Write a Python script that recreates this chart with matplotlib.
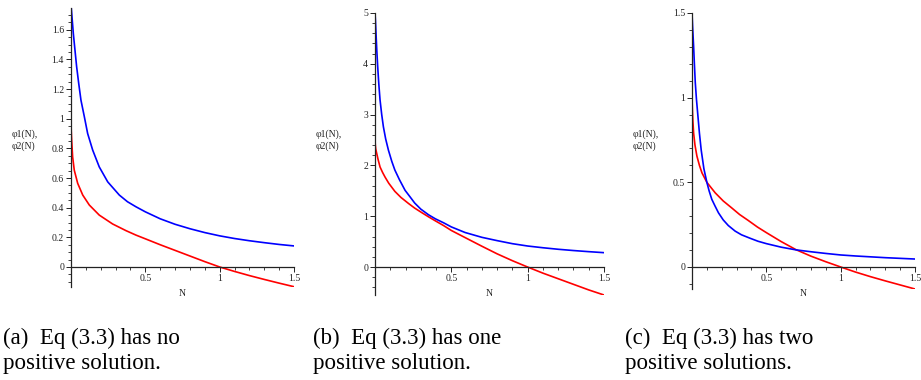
import numpy as np
import matplotlib
matplotlib.use("Agg")
import matplotlib.pyplot as plt

plt.rcParams['font.family'] = ['Liberation Serif', 'DejaVu Serif']

# panel (a): no positive solution
a_N_red = [0, 0.0015, 0.0045, 0.011, 0.022, 0.045, 0.079, 0.123, 0.19, 0.28, 0.37, 0.437,
           0.5, 0.6, 0.7, 0.8, 0.9, 1.0, 1.1, 1.2, 1.3, 1.4, 1.5]
a_red = [1.0, 0.92, 0.855, 0.743, 0.653, 0.564, 0.485, 0.418, 0.35, 0.29, 0.245, 0.215,
         0.19, 0.15, 0.112, 0.074, 0.036, 0.0, -0.03, -0.058, -0.084, -0.109, -0.133]
a_N_blue = [0.0015, 0.0067, 0.0157, 0.027, 0.038, 0.052, 0.067, 0.090, 0.112, 0.146, 0.19,
            0.247, 0.325, 0.38, 0.437, 0.5, 0.6, 0.7, 0.8, 0.9, 1.0, 1.1, 1.2, 1.3, 1.4, 1.5]
a_blue = [1.75, 1.686, 1.574, 1.46, 1.35, 1.237, 1.125, 1.012, 0.90, 0.788, 0.675,
          0.574, 0.485, 0.44, 0.406, 0.372, 0.325, 0.288, 0.258, 0.232, 0.21, 0.192, 0.177,
          0.164, 0.152, 0.142]

# panel (b): one positive solution
b_N_red = [0, 0.002, 0.005, 0.011, 0.02, 0.033, 0.05, 0.066, 0.09, 0.13, 0.17, 0.22, 0.26, 0.307,
           0.35, 0.395, 0.45, 0.5, 0.59, 0.7, 0.8, 0.9, 1.0, 1.1, 1.2, 1.3, 1.4, 1.5]
b_red = [2.5, 2.4, 2.32, 2.24, 2.12, 1.97, 1.86, 1.77, 1.65, 1.49, 1.37, 1.25, 1.16, 1.07,
         0.99, 0.91, 0.815, 0.72, 0.58, 0.41, 0.26, 0.125, 0.0, -0.12, -0.23, -0.34, -0.45, -0.55]
b_N_blue = [0.0, 0.003, 0.0066, 0.012, 0.0175, 0.025, 0.033, 0.044, 0.055, 0.07, 0.088, 0.11, 0.13,
            0.16, 0.197, 0.23, 0.26, 0.3, 0.35, 0.395, 0.45, 0.5, 0.59, 0.7, 0.8, 0.9, 1.0, 1.1,
            1.2, 1.3, 1.4, 1.5]
b_blue = [5.0, 4.85, 4.6, 4.25, 3.95, 3.6, 3.29, 3.0, 2.76, 2.52, 2.30, 2.08, 1.91, 1.72, 1.51,
          1.38, 1.26, 1.14, 1.03, 0.95, 0.87, 0.79, 0.68, 0.585, 0.52, 0.46, 0.414, 0.38, 0.35,
          0.325, 0.303, 0.283]

# panel (c): two positive solutions
c_N_red = [0, 0.003, 0.006, 0.011, 0.02, 0.033, 0.05, 0.067, 0.1, 0.156, 0.21, 0.267, 0.32, 0.378,
           0.44, 0.5, 0.6, 0.7, 0.8, 0.9, 1.0, 1.1, 1.2, 1.3, 1.4, 1.5]
c_red = [1.0, 0.92, 0.86, 0.79, 0.72, 0.655, 0.6, 0.556, 0.5, 0.438, 0.39, 0.349, 0.31, 0.275,
         0.236, 0.203, 0.15, 0.102, 0.064, 0.031, 0.0, -0.03, -0.057, -0.082, -0.106, -0.13]
c_N_blue = [0.0, 0.004, 0.011, 0.016, 0.022, 0.03, 0.04, 0.05, 0.062, 0.08, 0.1, 0.115, 0.133,
            0.155, 0.178, 0.21, 0.244, 0.29, 0.333, 0.39, 0.444, 0.5, 0.6, 0.7, 0.8, 0.9, 1.0,
            1.1, 1.2, 1.3, 1.4, 1.5]
c_blue = [1.5, 1.42, 1.3, 1.2, 1.09, 0.99, 0.89, 0.79, 0.69, 0.58, 0.5, 0.45, 0.40, 0.36, 0.32,
          0.278, 0.245, 0.212, 0.19, 0.17, 0.152, 0.138, 0.117, 0.101, 0.09, 0.08, 0.071, 0.065,
          0.06, 0.055, 0.051, 0.047]

x_ticks = [0.5, 1, 1.5]
x_labels = ['0.5', '1', '1.5']
a_yticks = [0, 0.2, 0.4, 0.6, 0.8, 1, 1.2, 1.4, 1.6]
a_ylabels = ['0', '0.2', '0.4', '0.6', '0.8', '1', '1.2', '1.4', '1.6']
b_yticks = [0, 1, 2, 3, 4, 5]
b_ylabels = ['0', '1', '2', '3', '4', '5']
c_yticks = [0, 0.5, 1, 1.5]
c_ylabels = ['0', '0.5', '1', '1.5']

captions = ['(a)  Eq (3.3) has no\npositive solution.',
            '(b)  Eq (3.3) has one\npositive solution.',
            '(c)  Eq (3.3) has two\npositive solutions.']

W, H = 921, 380
fig = plt.figure(figsize=(W / 100, H / 100), dpi=100)


def make_axes(left, right, top, bottom):
    return fig.add_axes([left / W, 1 - bottom / H, (right - left) / W, (bottom - top) / H])


panels = [
    # px box, ylim, data, yticks, ylabels, minor step, minor start
    ((71, 294, 7.5, 287), (-0.135, 1.75), (a_N_red, a_red, a_N_blue, a_blue), a_yticks, a_ylabels,
     0.05, -0.1),
    ((375, 604, 13, 295), (-0.55, 5.0), (b_N_red, b_red, b_N_blue, b_blue), b_yticks, b_ylabels,
     0.2, -0.4),
    ((692, 915, 13, 289), (-0.13, 1.5), (c_N_red, c_red, c_N_blue, c_blue), c_yticks, c_ylabels,
     0.1, -0.1),
]
cap_x = [3, 313, 625]

for i, (box, ylim, data, yt, yl, mstep, mstart) in enumerate(panels):
    left, right, top, bottom = box
    ax = make_axes(left, right, top, bottom)
    nr, r, nb, b = data
    ax.plot(nr, r, color='#ff0000', lw=1.2)
    ax.plot(nb, b, color='#0000ff', lw=1.2)
    ax.set_xlim(0, 1.5)
    ax.set_ylim(*ylim)
    ax.patch.set_alpha(0)
    for s in ['top', 'right']:
        ax.spines[s].set_visible(False)
    ax.spines['bottom'].set_position(('data', 0))
    ax.spines['left'].set_position(('data', 0))
    for s in ['bottom', 'left']:
        ax.spines[s].set_linewidth(0.9)
        ax.spines[s].set_color('#222222')
    ax.set_xticks(x_ticks)
    ax.set_xticklabels(x_labels)
    ax.set_xticks(np.arange(0.1, 1.5, 0.1), minor=True)
    ax.set_yticks(yt)
    ax.set_yticklabels(yl)
    ax.set_yticks(np.arange(mstart, ylim[1], mstep), minor=True)
    ax.tick_params(which='major', length=3.5, width=0.7, color='#222222', labelsize=7,
                   labelcolor='#222222', pad=1.5)
    ax.tick_params(which='minor', length=2.0, width=0.6, color='#222222')
    fig.text((left - 59) / W, 1 - 140 / H, 'φ1(N),\nφ2(N)', fontsize=7, ha='left', va='center',
             linespacing=1.35, color='#222222')
    fig.text((left + right) / 2 / W, 1 - 293 / H, 'N', fontsize=7, ha='center', va='center',
             color='#222222')
    fig.text(cap_x[i] / W, 1 - 351 / H, captions[i], fontsize=16.5, ha='left', va='center',
             linespacing=1.25, color='black')

fig.savefig('out.png', dpi=100)
